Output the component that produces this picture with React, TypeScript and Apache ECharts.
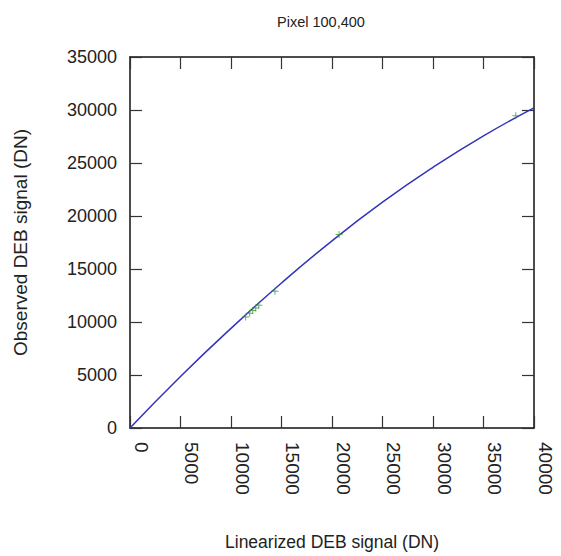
import React, { useEffect, useRef } from "react";
import * as echarts from "echarts";

// Fitted nonlinearity curve (linearized DN -> observed DN)
const curveX = [0, 5000, 10000, 15000, 20000, 25000, 30000, 35000, 40000];
const curveY = [0, 4860, 9400, 13680, 17660, 21300, 24590, 27560, 30200];

// Measured DEB samples for pixel 100,400
const pointX = [11450, 11850, 12150, 12450, 12750, 14350, 20700, 38200];
const pointY = [10470, 10830, 11080, 11330, 11580, 12900, 18250, 29450];

const xTicks = { min: 0, max: 40000, interval: 5000 };
const yTicks = { min: 0, max: 35000, interval: 5000 };

const FONT = "'Liberation Sans', Arial, sans-serif";
const PLUS = "path://M4.3,0h1.4v10h-1.4z M0,4.3h10v1.4h-10z";
const plain = (v: number) => String(v);

export default function App() {
  const ref = useRef<HTMLDivElement>(null);

  useEffect(() => {
    if (!ref.current) return;
    const chart = echarts.init(ref.current, null, { renderer: "svg" });

    const frameLine = { show: true, onZero: false, lineStyle: { color: "#111", width: 1.5 } };
    const innerTick = { show: true, inside: true, length: 12, lineStyle: { color: "#333", width: 1.2 } };

    chart.setOption({
      animation: false,
      backgroundColor: "#fff",
      title: {
        text: "Pixel 100,400",
        left: 272,
        top: 9,
        textStyle: { fontFamily: FONT, fontSize: 14.5, fontWeight: "normal", color: "#222" },
      },
      grid: { left: 130, top: 57, width: 404, height: 376, show: false },
      xAxis: [
        {
          type: "value",
          position: "bottom",
          ...xTicks,
          name: "Linearized DEB signal (DN)",
          nameLocation: "middle",
          nameGap: 105,
          nameTextStyle: { fontFamily: FONT, fontSize: 17.5, color: "#222" },
          axisLine: frameLine,
          axisTick: innerTick,
          splitLine: { show: false },
          axisLabel: {
            rotate: -90,
            margin: 14,
            fontFamily: FONT,
            fontSize: 19,
            color: "#222",
            verticalAlign: "bottom",
            lineHeight: 22,
            formatter: plain,
          },
        },
        {
          type: "value",
          position: "top",
          ...xTicks,
          axisLine: frameLine,
          axisTick: innerTick,
          splitLine: { show: false },
          axisLabel: { show: false },
        },
      ],
      yAxis: [
        {
          type: "value",
          position: "left",
          ...yTicks,
          name: "Observed DEB signal (DN)",
          nameLocation: "middle",
          nameGap: 100,
          nameTextStyle: { fontFamily: FONT, fontSize: 19, color: "#222" },
          axisLine: frameLine,
          axisTick: innerTick,
          splitLine: { show: false },
          axisLabel: { margin: 13, fontFamily: FONT, fontSize: 18, color: "#222", formatter: plain },
        },
        {
          type: "value",
          position: "right",
          ...yTicks,
          axisLine: frameLine,
          axisTick: innerTick,
          splitLine: { show: false },
          axisLabel: { show: false },
        },
      ],
      series: [
        {
          type: "line",
          data: curveX.map((x, i) => [x, curveY[i]]),
          smooth: true,
          showSymbol: false,
          lineStyle: { color: "#3333bb", width: 1.5 },
          z: 2,
        },
        {
          type: "scatter",
          data: pointX.map((x, i) => [x, pointY[i]]),
          symbol: PLUS,
          symbolSize: 7,
          itemStyle: { color: "#3c9a3c" },
          z: 3,
        },
      ],
    });

    return () => chart.dispose();
  }, []);

  return (
    <div
      ref={ref}
      style={{ position: "fixed", left: 0, top: 0, width: 561, height: 556, background: "#fff" }}
    />
  );
}
